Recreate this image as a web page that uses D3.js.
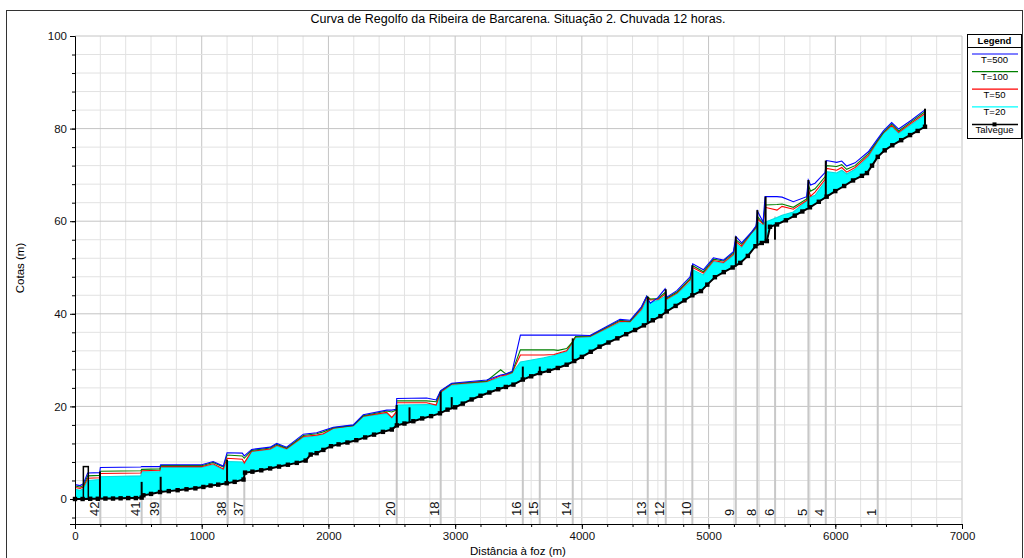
<!doctype html>
<html>
<head>
<meta charset="utf-8">
<title>Curva de Regolfo</title>
<script src="https://cdnjs.cloudflare.com/ajax/libs/d3/7.8.5/d3.min.js"></script>
<style>
  body { margin: 0; background: #fff; }
  svg { font-family: Arial, "Liberation Sans", sans-serif; }
</style>
</head>
<body>
<div id="chart"></div>
<script>
// thalweg (talvegue) - distance from mouth (m) and bed level (m)
const talvDist = [0,60,120,180,240,300,360,420,480,526,540,600,671,740,810,880,950,1013,1070,1130,1197,1260,1330,1342,1400,1470,1540,1610,1680,1750,1820,1860,1907,1960,2020,2080,2150,2220,2290,2360,2430,2500,2540,2600,2670,2740,2810,2880,2940,3000,3060,3130,3200,3270,3340,3400,3460,3534,3600,3670,3740,3810,3880,3940,4000,4070,4140,4210,4280,4350,4420,4490,4560,4620,4670,4740,4810,4872,4940,4990,5050,5120,5190,5250,5310,5370,5420,5460,5485,5540,5610,5680,5740,5800,5870,5932,6000,6070,6140,6210,6250,6290,6335,6390,6450,6520,6590,6650,6708];
const talvCota = [0,0,0.05,0.05,0.1,0.1,0.15,0.2,0.2,0.3,0.8,1.1,1.5,1.7,1.9,2.1,2.3,2.6,2.9,3.1,3.4,3.7,4.2,5.7,5.9,6.2,6.6,7.0,7.4,7.8,8.3,9.6,9.9,10.6,11.4,11.8,12.2,12.7,13.3,13.9,14.5,15.0,15.9,16.3,16.8,17.4,17.9,18.5,19.3,19.8,20.6,21.5,22.3,23.0,23.7,24.2,24.7,25.8,26.5,27.2,27.7,28.3,29.0,29.8,30.7,31.8,32.9,33.8,34.7,35.6,36.5,37.5,38.6,39.5,40.5,41.7,42.9,44.0,44.9,46.3,47.9,49.0,50.0,51.0,52.5,54.6,55.3,55.7,58.8,59.3,60.2,61.2,62.1,63.0,64.2,65.3,66.5,67.6,68.8,69.8,70.4,72.0,73.9,75.3,76.4,77.5,78.6,79.5,80.4];

// water surface profiles
const wsDist = [0,40,66,100,195,200,520,526,670,676,1000,1090,1170,1200,1320,1336,1394,1540,1592,1670,1802,1907,1960,2039,2196,2275,2460,2500,2535,2539,2775,2850,2886,2973,3249,3359,3400,3450,3515,3538,3700,3780,3812,3880,3920,3950,4064,4301,4380,4470,4512,4540,4600,4657,4670,4750,4854,4875,4959,5038,5117,5196,5215,5261,5340,5375,5385,5430,5446,5540,5580,5669,5774,5787,5805,5840,5919,5932,6011,6051,6090,6156,6261,6327,6380,6445,6500,6600,6705];
const t500 = [3.1,2.9,3.3,5.6,5.7,6.8,6.9,7.0,7.0,7.4,7.4,8.1,7.1,10.0,9.9,9.3,10.7,11.2,12.0,11.2,14.0,14.3,14.8,15.5,16.0,18.2,19.2,19.2,19.4,21.7,21.8,21.4,23.4,25.0,25.7,26.8,27.0,27.6,35.4,35.4,35.4,35.4,35.4,35.4,35.4,35.4,35.3,38.8,38.6,41.5,43.8,42.3,43.5,45.4,43.6,45.0,48.0,50.8,49.5,52.1,51.6,53.4,56.7,55.3,57.7,59.0,62.2,59.8,65.3,65.3,65.2,64.2,65.3,68.9,67.8,68.2,70.5,73.1,72.7,73.0,71.9,72.6,75.0,77.5,79.5,81.3,79.9,81.8,84.0];
const t100 = [2.8,2.6,2.9,5.0,5.1,6.0,6.1,6.4,6.5,7.2,7.2,7.9,6.9,9.5,9.3,8.8,10.5,11.0,11.8,11.0,13.7,14.1,14.5,15.4,15.9,18.0,19.0,18.8,19.2,21.2,21.2,21.0,23.3,24.9,25.5,27.9,27.0,27.4,32.2,32.2,32.2,32.2,32.1,32.5,33.7,35.1,35.2,38.6,38.4,41.3,43.8,43.2,43.3,44.6,43.4,44.7,47.6,50.4,49.1,51.8,51.4,53.1,56.0,55.0,57.6,58.8,61.0,59.6,63.5,63.6,63.7,63.0,64.8,67.8,66.5,67.0,69.6,72.0,71.8,72.2,71.2,72.0,74.6,77.2,79.2,81.0,79.5,81.5,83.6];
const t50 = [2.5,2.3,2.6,4.5,4.6,5.5,5.6,6.1,6.2,7.0,7.0,7.6,6.5,8.8,8.6,7.8,10.3,10.8,11.6,10.9,13.5,13.8,14.1,15.3,15.8,17.9,18.7,17.6,18.8,20.8,20.8,20.3,23.1,24.8,25.4,26.6,26.8,27.3,31.1,31.1,31.1,31.2,31.5,32.0,33.6,35.0,35.1,38.4,38.3,41.0,43.5,43.0,43.1,44.2,43.2,44.5,47.3,50.0,48.8,51.5,51.1,52.8,55.6,54.6,57.5,58.6,60.5,59.4,63.0,62.4,63.2,62.6,64.5,67.0,65.4,66.3,69.0,71.4,71.0,71.6,70.6,71.6,74.2,77.0,79.1,80.7,79.2,81.2,83.2];
const t20 = [2.1,1.9,2.2,4.0,4.2,4.8,5.0,5.9,5.9,6.8,6.8,7.4,6.3,8.1,8.0,7.6,10.2,10.7,11.4,10.7,13.3,13.6,14.0,15.3,15.8,17.8,18.5,17.5,18.5,20.3,20.4,20.3,23.0,24.6,25.3,26.3,26.6,27.2,29.6,29.7,30.5,31.0,31.3,31.8,33.5,34.9,35.0,38.1,38.3,40.6,43.0,42.4,42.9,43.8,43.0,44.3,46.9,49.5,48.4,51.3,50.9,52.6,55.2,54.3,57.4,58.4,59.8,59.2,59.8,60.8,61.3,62.0,64.4,65.5,65.2,65.6,68.5,70.7,70.4,71.0,70.2,71.2,73.9,76.8,78.9,80.4,79.0,80.9,82.9];

// cross sections shown on the profile
const secLabels = ["42","41","39","38","37","20","18","16","15","14","13","12","10","9","8","6","5","4","1"];
const secDist = [200,526,676,1205,1336,2539,2886,3534,3668,3928,4520,4662,4872,5215,5385,5525,5788,5925,6335];
const secTop = [4.8,5.9,6.8,8.1,7.6,20.3,23.0,29.7,30.4,33.5,43.0,43.8,49.5,55.2,59.5,61.0,65.5,70.7,76.8];

// structures (weirs / bridges) drawn as black verticals
const structDist = [197,526,676,1200,2539,2640,2886,2973,3534,3668,3928,4520,4662,4872,5215,5385,5450,5524,5788,5925,6708];
const structBase = [0.05,0.5,1.6,3.4,16.0,16.7,18.5,19.4,25.6,26.8,30.0,38.1,40.5,44.1,50.2,54.9,55.6,56.0,63.1,65.3,80.4];
const structTop = [5.9,3.7,4.8,8.5,20.3,19.8,23.2,22.0,28.6,28.6,34.7,43.7,45.3,50.5,56.7,62.4,65.3,59.0,68.9,73.1,84.3];
const bridgeDist = [66,105];
const bridgeTop = 7.0;

const legendNames = ["T=500","T=100","T=50","T=20","Talvegue"];
const legendColors = ["#0000ff","#008000","#ff0000","#00ffff","#000000"];

const W = 1024, H = 558;
const svg = d3.select('#chart').append('svg').attr('width', W).attr('height', H);

const x = d3.scaleLinear().domain([0, 7000]).range([75, 962]);
const y = d3.scaleLinear().domain([-5.4, 100]).range([524, 36]);

// outer frame
svg.append('rect').attr('x', 6.5).attr('y', 10.5).attr('width', 1016).attr('height', 600)
  .attr('fill', 'none').attr('stroke', '#333').attr('stroke-width', 1);

// grid
const g = svg.append('g');
g.selectAll('.vg').data(d3.range(200, 7001, 200)).join('line')
  .attr('x1', d => x(d)).attr('x2', d => x(d)).attr('y1', y(-5.4)).attr('y2', y(100))
  .attr('stroke', d => d % 1000 === 0 ? '#c4c4c4' : '#e2e2e2').attr('stroke-width', 1);
g.selectAll('.hg').data(d3.range(-4, 101, 4)).join('line')
  .attr('x1', x(0)).attr('x2', x(7000)).attr('y1', d => y(d)).attr('y2', d => y(d))
  .attr('stroke', d => d % 20 === 0 ? '#c4c4c4' : '#e2e2e2').attr('stroke-width', 1);

// section lines
g.selectAll('.sec').data(secDist).join('line')
  .attr('x1', d => x(d)).attr('x2', d => x(d))
  .attr('y1', y(-5.4)).attr('y2', (d, i) => y(secTop[i]))
  .attr('stroke', '#c8c8c8').attr('stroke-width', 2);

// water fill (T=20) down to the thalweg
const pts20 = wsDist.map((d, i) => [d, t20[i]]);
const ptsBed = talvDist.map((d, i) => [d, talvCota[i]]);
const line = d3.line().x(d => x(d[0])).y(d => y(d[1]));
svg.append('path').attr('d', line(pts20.concat(ptsBed.slice().reverse())) + 'Z')
  .attr('fill', '#00ffff').attr('stroke', 'none');

// water surface lines
const series = [t20, t50, t100, t500];
const seriesColors = ["#00e0e0", "#ff0000", "#008000", "#0000ff"];
series.forEach((s, k) => {
  svg.append('path').attr('d', line(wsDist.map((d, i) => [d, s[i]])))
    .attr('fill', 'none').attr('stroke', seriesColors[k]).attr('stroke-width', 1.1);
});

// structures
svg.selectAll('.st').data(structDist).join('line')
  .attr('x1', d => x(d)).attr('x2', d => x(d))
  .attr('y1', (d, i) => y(structBase[i])).attr('y2', (d, i) => y(structTop[i]))
  .attr('stroke', '#000').attr('stroke-width', 2);
svg.append('rect')
  .attr('x', x(bridgeDist[0])).attr('y', y(bridgeTop))
  .attr('width', x(bridgeDist[1]) - x(bridgeDist[0])).attr('height', y(0) - y(bridgeTop))
  .attr('fill', 'none').attr('stroke', '#000').attr('stroke-width', 1.5);

// thalweg
svg.append('path').attr('d', line(ptsBed)).attr('fill', 'none')
  .attr('stroke', '#000').attr('stroke-width', 2);
svg.selectAll('.mk').data(ptsBed).join('rect')
  .attr('x', d => x(d[0]) - 2.2).attr('y', d => y(d[1]) - 2.2)
  .attr('width', 4.4).attr('height', 4.4).attr('fill', '#000');

// section labels
svg.selectAll('.sl').data(secLabels).join('text')
  .attr('transform', (d, i) => `translate(${x(secDist[i]) - 1.5},516) rotate(-90)`)
  .attr('font-size', 13).attr('fill', '#111').text(d => d);

// axes
const xAxis = svg.append('g').attr('transform', `translate(0,${y(-5.4)})`)
  .call(d3.axisBottom(x).tickValues(d3.range(0, 7001, 1000)).tickSize(5).tickPadding(3).tickFormat(d3.format('d')));
svg.append('g').attr('transform', `translate(0,${y(-5.4)})`)
  .call(d3.axisBottom(x).tickValues(d3.range(0, 7001, 200)).tickSize(3).tickFormat(''))
  .select('.domain').remove();
const yAxis = svg.append('g').attr('transform', `translate(${x(0)},0)`)
  .call(d3.axisLeft(y).tickValues(d3.range(0, 101, 20)).tickSize(5).tickPadding(3));
svg.append('g').attr('transform', `translate(${x(0)},0)`)
  .call(d3.axisLeft(y).tickValues(d3.range(-4, 101, 4)).tickSize(3).tickFormat(''))
  .select('.domain').remove();
svg.selectAll('.tick text').attr('font-size', 11.5).attr('font-family', 'Arial, "Liberation Sans", sans-serif').attr('fill', '#111');
svg.selectAll('.domain').attr('stroke', '#000');

// titles
svg.append('text').attr('x', 518).attr('y', 23).attr('text-anchor', 'middle')
  .attr('font-size', 12.5).text('Curva de Regolfo da Ribeira de Barcarena. Situação 2. Chuvada 12 horas.');
svg.append('text').attr('x', 518).attr('y', 555).attr('text-anchor', 'middle')
  .attr('font-size', 11.5).text('Distância à foz (m)');
svg.append('text').attr('transform', 'translate(24,268) rotate(-90)').attr('text-anchor', 'middle')
  .attr('font-size', 11.5).text('Cotas (m)');

// legend
const lg = svg.append('g');
lg.append('rect').attr('x', 967.5).attr('y', 34.5).attr('width', 54).attr('height', 104)
  .attr('fill', '#fff').attr('stroke', '#000');
lg.append('text').attr('x', 994.5).attr('y', 44).attr('text-anchor', 'middle')
  .attr('font-size', 9.5).attr('font-weight', 'bold').text('Legend');
lg.append('line').attr('x1', 967.5).attr('x2', 1021.5).attr('y1', 47.5).attr('y2', 47.5).attr('stroke', '#000');
legendNames.forEach((n, i) => {
  const ly = 54 + i * 17.6;
  lg.append('line').attr('x1', 972).attr('x2', 1018).attr('y1', ly).attr('y2', ly)
    .attr('stroke', legendColors[i]).attr('stroke-width', i === 4 ? 1.5 : 1.2);
  if (i === 4) lg.append('rect').attr('x', 992.5).attr('y', ly - 2).attr('width', 4).attr('height', 4).attr('fill', '#000');
  lg.append('text').attr('x', 994.5).attr('y', ly + 8.5).attr('text-anchor', 'middle')
    .attr('font-size', 9.5).text(n);
});
</script>
</body>
</html>
